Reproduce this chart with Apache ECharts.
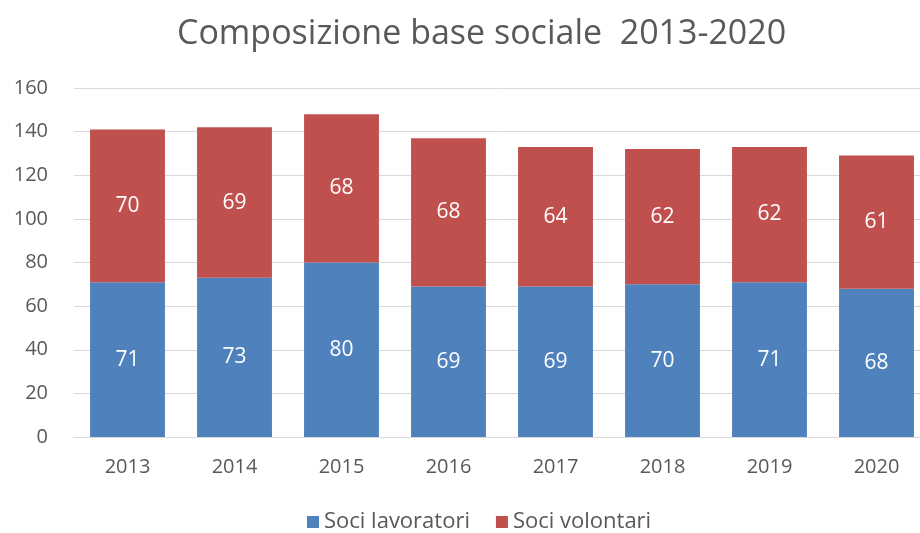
<!DOCTYPE html>
<html>
<head>
<meta charset="utf-8">
<script src="https://cdn.jsdelivr.net/npm/echarts@6/dist/echarts.min.js"></script>
<style>
  html, body { margin: 0; padding: 0; background: #fff; }
  #chart { width: 920px; height: 533px; }
</style>
</head>
<body>
<div id="chart"></div>
<script>
// dati
var anni = ['2013', '2014', '2015', '2016', '2017', '2018', '2019', '2020']
var sociLavoratori = [71, 73, 80, 69, 69, 70, 71, 68]
var sociVolontari = [70, 69, 68, 68, 64, 62, 62, 61]
var yTicks = [0, 20, 40, 60, 80, 100, 120, 140, 160]

var font = '"Open Sans", "Noto Sans", sans-serif'
var grey = '#595959'

var myChart = echarts.init(document.getElementById('chart'))
myChart.setOption({
  animation: false,
  color: ['#4f81bd', '#c0504d'],
  title: {
    text: 'Composizione base sociale  2013-2020',
    left: 172,
    top: 12,
    textStyle: { fontFamily: font, fontSize: 34, fontWeight: 'normal', color: grey }
  },
  legend: {
    top: 506,
    left: 302,
    itemWidth: 12,
    itemHeight: 12,
    itemGap: 26,
    icon: 'rect',
    textStyle: { fontFamily: font, fontSize: 22, color: grey }
  },
  grid: {
    left: 74,
    width: 856,
    top: 88,
    bottom: 96,
    outerBoundsMode: 'none'
  },
  xAxis: {
    type: 'category',
    data: anni,
    axisTick: { show: false },
    axisLine: { lineStyle: { color: '#d9d9d9', width: 1 } },
    axisLabel: { fontFamily: font, fontSize: 20, color: grey, margin: 20 }
  },
  yAxis: {
    type: 'value',
    min: yTicks[0],
    max: yTicks[yTicks.length - 1],
    interval: 20,
    axisLine: { show: false },
    axisTick: { show: false },
    splitLine: { lineStyle: { color: '#d9d9d9', width: 1 } },
    axisLabel: { fontFamily: font, fontSize: 20, color: grey, margin: 26 }
  },
  series: [
    {
      name: 'Soci lavoratori',
      type: 'bar',
      stack: 'soci',
      barWidth: '70%',
      data: sociLavoratori,
      label: { show: true, position: 'inside', color: '#fff', fontFamily: font, fontSize: 21 }
    },
    {
      name: 'Soci volontari',
      type: 'bar',
      stack: 'soci',
      barWidth: '70%',
      data: sociVolontari,
      label: { show: true, position: 'inside', color: '#fff', fontFamily: font, fontSize: 21 }
    }
  ]
})
</script>
</body>
</html>
